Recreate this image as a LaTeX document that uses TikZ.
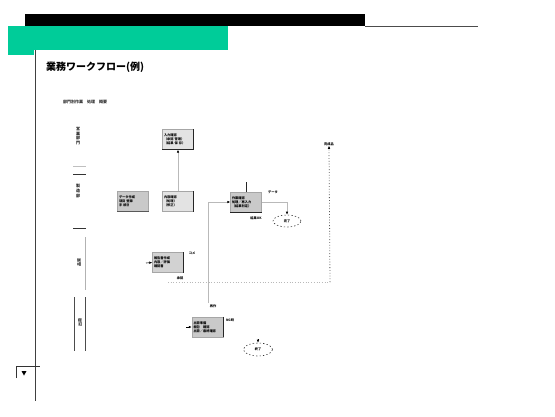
\documentclass[tikz,border=0pt]{standalone}
\usepackage{fontspec}
\newfontfamily\jp{Noto Sans CJK JP}
\usetikzlibrary{arrows.meta,shapes.geometric}
\definecolor{hdrgreen}{RGB}{0,204,153}
\tikzset{
  box/.style={draw=gray!70, line width=0.4pt, fill=gray!42, minimum width=31pt, minimum height=20pt,
    inner sep=1.2pt, text width=28pt, font=\jp\bfseries\fontsize{3.2}{4.2}\selectfont, align=left, text=black},
  lightbox/.style={box, fill=gray!22},
  conn/.style={draw=gray!55, line width=0.6pt},
  tip/.style={-{Latex[length=3pt,width=2.6pt,color=black]}},
  lbl/.style={font=\jp\bfseries\fontsize{3.2}{3.9}\selectfont, inner sep=0pt, text=black},
  endoval/.style={ellipse, draw=black!80, dashed, dash pattern=on 1.3pt off 2.2pt, line width=0.6pt,
    minimum width=28pt, minimum height=12pt, inner sep=0pt, font=\jp\bfseries\fontsize{3.2}{3.9}\selectfont},
  lanelbl/.style={font=\jp\bfseries\fontsize{4}{4.8}\selectfont, align=center, inner sep=0pt, text=black!85},
  heavy/.style={draw=black!85, line width=1.1pt}
}
\begin{document}
\begin{tikzpicture}[x=1pt,y=-1pt]
\useasboundingbox (0,0) rectangle (555,416);
\fill[white] (0,0) rectangle (555,416);
% header
\fill[black] (25,14) rectangle (365,26);
\draw[gray!60!black, line width=0.6pt] (365,26) -- (478,26);
\fill[hdrgreen] (8,26) rectangle (228,55);
\fill[white] (34,50) rectangle (229,56);
\draw[black!75, line width=0.9pt] (35,50) -- (35,401);
% bottom marker
\draw[black!80, line width=0.7pt] (16,378) -- (16,366) -- (40,366);
\fill[black] (21.5,371) -- (26.5,371) -- (24,375.5) -- cycle;
% title
\node[anchor=west, font=\jp\bfseries\fontsize{10}{12}\selectfont, inner sep=0pt] (title) at (46,67) {業務ワークフロー(例)};
\node[anchor=west, font=\jp\bfseries\fontsize{4}{5}\selectfont, inner sep=0pt, text=black!80] (sub) at (63,102) {部門別作業　処理　概要};
% lanes
\node[lanelbl] (L1) at (78,136) {営\\業\\部\\門};
\draw[gray!50, line width=0.6pt] (73,166) -- (86,166);
\draw[black!80, line width=0.8pt] (73,174) -- (86,174);
\node[lanelbl] (L2) at (78,191) {製\\造\\部};
\draw[black!80, line width=0.8pt] (73,228) -- (86,228);
\draw[gray!60, line width=0.8pt] (85,237) -- (85,290);
\node[lanelbl, rotate=90] (L3) at (79,262) {品質};
\draw[gray!60!black, line width=0.8pt] (74,297) -- (74,351);
\draw[gray!60!black, line width=0.8pt] (85,297) -- (85,351);
\node[lanelbl, rotate=90] (L4) at (80,322) {出荷};
% boxes
\node[lightbox] (A) at (178,139.5) {入力確認\\（承認 管理）\\（結果 保 存）};
\draw[heavy] (A.north east) -- (A.south east) -- (A.south west);
\node[box] (C) at (133,201.5) {データ作成\\項目 登録\\手 続き};
\draw[draw=gray!70!black, line width=0.8pt] (C.south west) -- (C.south east);
\node[lightbox] (B) at (178,201.5) {内容確認\\（処理）\\（修正）};
\draw[heavy] (B.north east) -- (B.south east);
\node[box] (D) at (246,202) {作業確認\\処理／再入力\\（結果判定）};
\draw[heavy] (D.south west) -- (D.south east);
\node[box, fill=gray!35] (F) at (168,262.5) {報告書作成\\内容／評価\\確認書};
\draw[heavy] (F.north east) -- (F.south east);
\node[box] (E) at (207.5,327) {出荷準備\\梱包　確認\\出荷／最終確認};
\draw[heavy] (E.north east) -- (E.south east);
% end ovals
\node[endoval] (O1) at (287,221) {完了};
\node[endoval, minimum width=29pt, minimum height=13pt] (O2) at (258,349.5) {終了};
% connectors
\draw[conn, tip] (B.north) -- (A.south);
\coordinate (e1) at (208,303);
\draw[conn, tip] (e1) |- (D.west);
\coordinate (d0) at (246,182);
\draw[black!85, line width=0.9pt] (d0) -- (D.north);
\draw[conn, tip] (D.east) -| (O1.north);
\node[lbl] (Q) at (329,144) {完成品};
\coordinate (p1) at (168,282);
\coordinate (p2) at (330,282);
\draw[gray!55, dotted, line width=0.7pt] (p1) -- (p2);
\draw[gray!70!black, dotted, line width=0.8pt, tip] (p2) -- (Q.south);
\coordinate (f0) at (146,263);
\draw[black, line width=0.6pt, tip] (f0) -- (F.west);
\coordinate (g0) at (186,327);
\draw[black, line width=0.6pt, tip] (g0) -- (E.west);
\coordinate (o0) at (258,339);
\draw[black, line width=0.6pt, tip] (o0) -- (O2.north);
% labels
\node[lbl] (t1) at (273,192) {データ};
\node[lbl] (t2) at (256,218) {結果OK};
\node[lbl] (t3) at (192,253) {コメ};
\node[lbl] (t4) at (180,278) {承認};
\node[lbl] (t5) at (213,306) {再作};
\node[lbl] (t6) at (230,320) {NG時};
\end{tikzpicture}
\end{document}
